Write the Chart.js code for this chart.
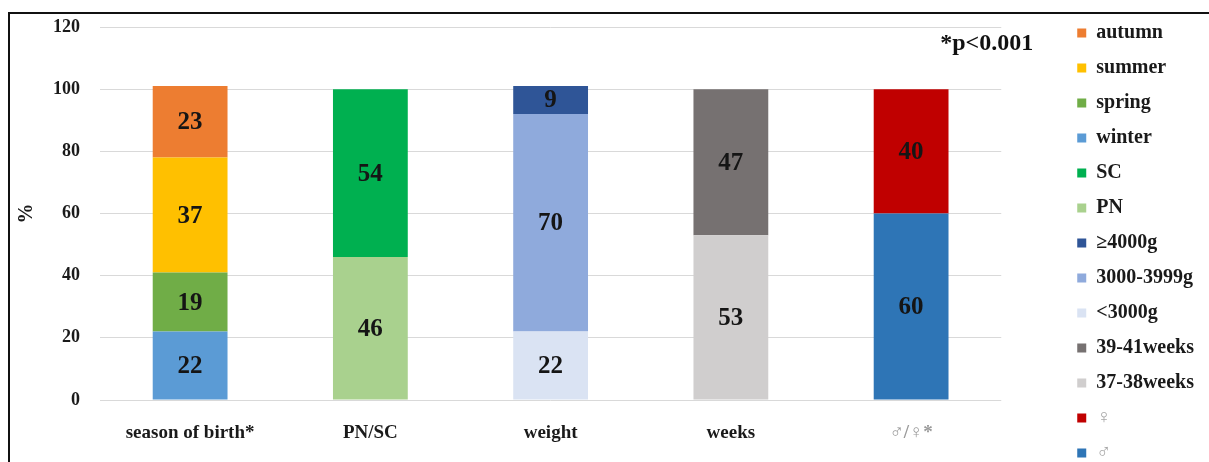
<!DOCTYPE html>
<html>
<head>
<meta charset="utf-8">
<script src="https://cdn.jsdelivr.net/npm/chart.js@4.4.1/dist/chart.umd.min.js"></script>
<style>
  html, body { margin: 0; padding: 0; background: #fff; overflow: hidden; }
  body { width: 1209px; height: 462px; position: relative; }
  #wrap { position: absolute; left: 0; top: 8px; width: 1209px; height: 480px; }
  #frame {
    position: absolute; left: 8px; top: 12px; width: 1300px; height: 600px;
    border-top: 2px solid #111; border-left: 2px solid #111;
    pointer-events: none; z-index: 2;
  }
</style>
</head>
<body>
<div id="frame"></div>
<div id="wrap"><canvas id="chart"></canvas></div>
<script>
// categories on the x axis
var categories = ['season of birth*', 'PN/SC', 'weight', 'weeks', '\u2642/\u2640*'];

// one group of stacked segments per category, bottom to top
var seasonNames = ['winter', 'spring', 'summer', 'autumn'];
var seasonValues = [22, 19, 37, 23];
var deliveryNames = ['PN', 'SC'];
var deliveryValues = [46, 54];
var weightNames = ['<3000g', '3000-3999g', '\u22654000g'];
var weightValues = [22, 70, 9];
var weeksNames = ['37-38weeks', '39-41weeks'];
var weeksValues = [53, 47];
var sexNames = ['\u2642', '\u2640'];
var sexValues = [60, 40];

var yMax = 120;
var yStep = 20;
var note = '*p<0.001';

// segment colours
var seasonColors = ['#5B9BD5', '#70AD47', '#FFC000', '#ED7D31'];
var deliveryColors = ['#A9D18E', '#00B050'];
var weightColors = ['#DAE3F3', '#8FAADC', '#2F5597'];
var weeksColors = ['#D0CECE', '#767171'];
var sexColors = ['#2E75B6', '#C00000'];

var groups = [
    [seasonNames, seasonValues, seasonColors],
    [deliveryNames, deliveryValues, deliveryColors],
    [weightNames, weightValues, weightColors],
    [weeksNames, weeksValues, weeksColors],
    [sexNames, sexValues, sexColors]
];

var datasets = [];
// legend lists groups left to right, each one top segment first
var legendOrder = [];
groups.forEach(function (g, ci) {
    g[0].forEach(function (name, i) {
        var data = categories.map(function () { return null; });
        data[ci] = g[1][i];
        datasets.push({
            label: name,
            data: data,
            backgroundColor: g[2][i],
            borderWidth: 0,
            barPercentage: 0.415,
            categoryPercentage: 1
        });
    });
    legendOrder = legendOrder.concat(g[0].slice().reverse());
});

var serif = '"Liberation Serif", "Times New Roman", serif';

// value written in the middle of each segment
var segmentLabels = {
    id: 'segmentLabels',
    afterDatasetsDraw: function (chart) {
        var ctx = chart.ctx;
        ctx.save();
        ctx.font = 'bold 25px ' + serif;
        ctx.fillStyle = '#151515';
        ctx.textAlign = 'center';
        ctx.textBaseline = 'middle';
        chart.data.datasets.forEach(function (ds, di) {
            var meta = chart.getDatasetMeta(di);
            meta.data.forEach(function (bar, i) {
                var v = ds.data[i];
                if (v === null) return;
                var p = bar.getProps(['x', 'y', 'base'], true);
                ctx.fillText(String(v), p.x, (p.y + p.base) / 2 + 1);
            });
        });
        ctx.restore();
    }
};

// significance note in the top right of the plot
var noteText = {
    id: 'noteText',
    afterDraw: function (chart) {
        var ctx = chart.ctx;
        var x = chart.scales.x.right + 32;
        var y = chart.scales.y.getPixelForValue(114.5);
        ctx.save();
        ctx.font = 'bold 24px ' + serif;
        ctx.fillStyle = '#111';
        ctx.textAlign = 'right';
        ctx.textBaseline = 'middle';
        ctx.fillText(note, x, y);
        ctx.restore();
    }
};

var ctx = document.getElementById('chart').getContext('2d');
new Chart(ctx, {
    type: 'bar',
    data: { labels: categories, datasets: datasets },
    plugins: [segmentLabels, noteText],
    options: {
        responsive: true,
        maintainAspectRatio: false,
        animation: false,
        layout: { padding: { right: 5 } },
        plugins: {
            tooltip: { enabled: false },
            legend: {
                position: 'right',
                align: 'start',
                labels: {
                    boxWidth: 9,
                    boxHeight: 9,
                    padding: 15,
                    color: '#1a1a1a',
                    font: { family: serif, size: 20, weight: 'bold' },
                    sort: function (a, b) {
                        return legendOrder.indexOf(a.text) - legendOrder.indexOf(b.text);
                    },
                    generateLabels: function (chart) {
                        var items = Chart.defaults.plugins.legend.labels.generateLabels(chart);
                        items.forEach(function (it) {
                            if (sexNames.indexOf(it.text) >= 0) it.fontColor = '#a8a8a8';
                        });
                        return items;
                    }
                }
            }
        },
        scales: {
            x: {
                stacked: true,
                grid: { display: false },
                border: { display: false },
                ticks: {
                    padding: 14,
                    maxRotation: 0,
                    autoSkip: false,
                    font: { family: serif, size: 19, weight: 'bold' },
                    color: function (c) { return c.index === 4 ? '#9a9a9a' : '#1a1a1a'; }
                },
                afterFit: function (s) { s.height = 88; }
            },
            y: {
                stacked: true,
                min: 0,
                max: yMax,
                border: { display: false },
                grid: { color: '#d9d9d9', drawTicks: false },
                ticks: {
                    stepSize: yStep,
                    padding: 20,
                    color: '#1a1a1a',
                    font: { family: serif, size: 18, weight: 'bold' }
                },
                title: {
                    display: true,
                    text: '%',
                    color: '#1a1a1a',
                    font: { family: serif, size: 20, weight: 'bold' },
                    padding: { top: 15, bottom: 0 }
                },
                afterFit: function (s) { s.width = 100; s.paddingTop = 19; }
            },
            gap: {
                position: 'right',
                display: true,
                grid: { display: false },
                border: { display: false },
                ticks: { display: false },
                afterFit: function (s) { s.width = 61; }
            }
        }
    }
});
</script>
</body>
</html>
